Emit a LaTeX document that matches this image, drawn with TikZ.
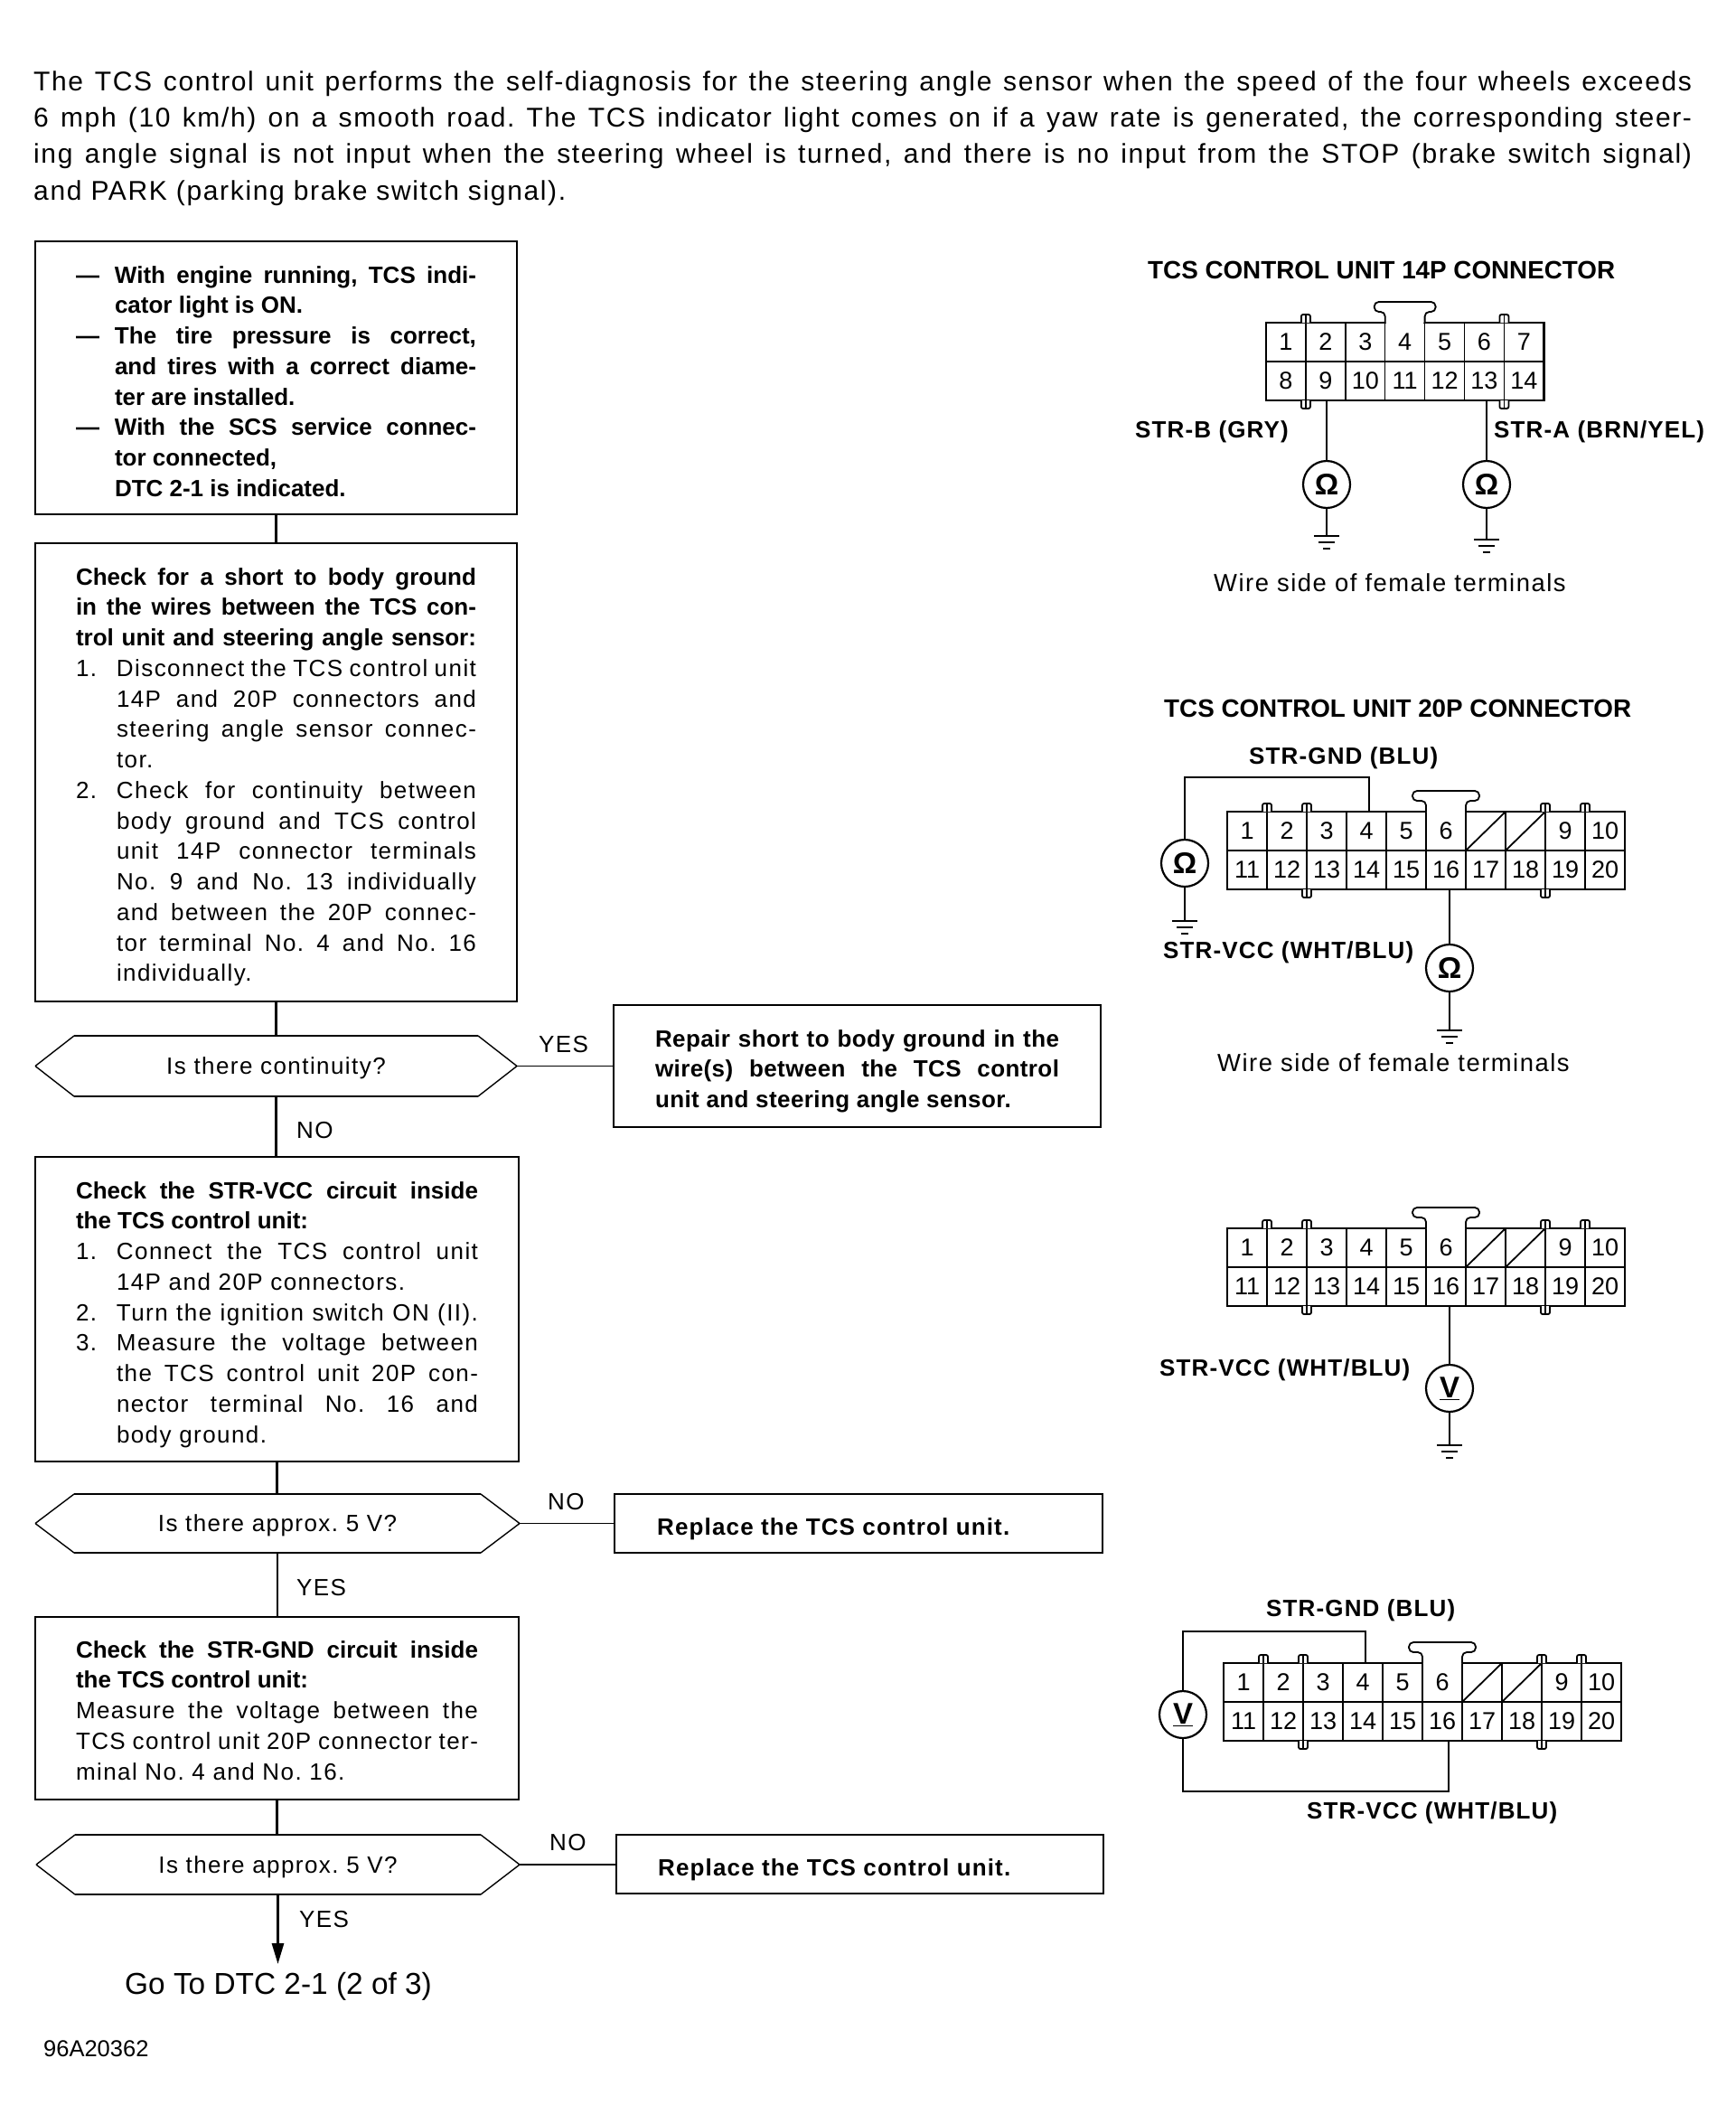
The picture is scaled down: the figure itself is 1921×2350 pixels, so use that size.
\documentclass[tikz,border=0pt]{standalone}
\usepackage{fontspec}
\setmainfont{Liberation Sans}[LetterSpace=5.5,BoldFeatures={LetterSpace=4.4}]
\newfontfamily\plainf{Liberation Sans}
\newfontfamily\repairf{Liberation Sans Bold}[LetterSpace=1.6]
\usetikzlibrary{calc,arrows.meta}
\newcommand\bodyfont{\fontsize{26}{33.75}\selectfont\frenchspacing}
\newcommand\boxbold{\plainf\bfseries}
\newdimen\LnW \newdimen\LnI
\newcommand\Ln[2]{\hbox to \LnW{\hbox to \LnI{#1\hfil}#2}}
\newcommand\Blk[5]{% name, x, y baseline, width, lines
  \node[anchor=base west,inner sep=0pt,outer sep=0pt] (#1) at (#2,#3) {\bodyfont\LnW=#4pt\LnI=43pt\baselineskip=33.75pt\lineskiplimit=-100pt\vtop{\hsize=#4pt #5}};}
\newcommand\Hex[6]{% name x1 x2 y1 y2 text
  \node[hexcore,minimum width={#3-#2},minimum height={#5-#4}] (#1) at ({(#2+#3)/2},{(#4+#5)/2}) {\raisebox{-9pt}[0pt][0pt]{#6}};
  \draw[hairl] (#1.west) -- ($(#1.north west)+(43,0)$) ($(#1.north east)+(-43,0)$) -- (#1.east) -- ($(#1.south east)+(-43,0)$) ($(#1.south west)+(43,0)$) -- (#1.west);
  \draw[heavy] ($(#1.north west)+(43,0)$) -- ($(#1.north east)+(-43,0)$) ($(#1.south west)+(43,0)$) -- ($(#1.south east)+(-43,0)$);}
\newcommand\ThinBox[1]{\draw[heavy,line width=2.4pt] (#1.north west) -- (#1.north east) (#1.south west) -- (#1.south east);}
\newcommand\Gnd[1]{\draw[wire] ($(#1)+(-14,0)$) -- ($(#1)+(14,0)$) ($(#1)+(-9,7)$) -- ($(#1)+(9,7)$) ($(#1)+(-4,14)$) -- ($(#1)+(4,14)$);}
\newcommand\Notch[2]{\draw[wire,fill=white,rounded corners=2pt] ($(#1)+(-5,0)$) -- ($(#1)+(-5,#2)$) -- ($(#1)+(5,#2)$) -- ($(#1)+(5,0)$);
  \draw[hairl] (#1) -- ($(#1)+(0,#2)$);}
\newcommand\Tab[3]{% anchors L,R on top, head overhang
  \draw[wire,fill=white,rounded corners=5pt] (#1) -- ($(#1)+(0,-12)$) -- ($(#1)+(-#3,-12)$) -- ($(#1)+(-#3,-23)$) -- ($(#2)+(#3,-23)$) -- ($(#2)+(#3,-12)$) -- ($(#2)+(0,-12)$) -- (#2);
  \fill[white] ($(#1)+(1.2,-2)$) rectangle ($(#2)+(-1.2,1.2)$);}
\newcommand\ConnA[3]{% 20P: prefix x y
  \foreach \i in {1,...,10}{\pgfmathsetmacro\cx{#2+(\i-.5)*44}
    \node[cellbox] (#1-\i) at (\cx,#3+21.5) {\ifnum\i=7 \else\ifnum\i=8 \else\i\fi\fi};}
  \foreach \i in {11,...,20}{\pgfmathsetmacro\cx{#2+(\i-10.5)*44}
    \node[cellbox] (#1-\i) at (\cx,#3+64.5) {\i};}
  \draw[heavy] (#1-1.north west) rectangle (#1-20.south east);
  \draw[wire] (#1-7.south west) -- (#1-7.north east) (#1-8.south west) -- (#1-8.north east);
  \Notch{#1-1.north east}{-9}\Notch{#1-2.north east}{-9}\Notch{#1-8.north east}{-9}\Notch{#1-9.north east}{-9}
  \Notch{#1-12.south east}{9}\Notch{#1-18.south east}{9}
  \Tab{#1-6.north west}{#1-6.north east}{15}}
\newcommand\ConnB[3]{% 14P
  \foreach \i in {1,...,7}{\pgfmathsetmacro\cx{#2+(\i-.5)*43.9}
    \node[cellbox,minimum width=43.9pt] (#1-\i) at (\cx,#3+21.5) {\i};}
  \foreach \i in {8,...,14}{\pgfmathsetmacro\cx{#2+(\i-7.5)*43.9}
    \node[cellbox,minimum width=43.9pt] (#1-\i) at (\cx,#3+64.5) {\i};}
  \draw[heavy] (#1-1.north west) rectangle (#1-14.south east);
  \Notch{#1-1.north east}{-9}\Notch{#1-6.north east}{-9}
  \Notch{#1-8.south east}{9}\Notch{#1-13.south east}{9}
  \Tab{#1-4.north west}{#1-4.north east}{12}}
\tikzset{
  wire/.style={line width=1.8pt,draw=black},
  hairl/.style={line width=1.4pt,draw=black},
  heavy/.style={line width=2.8pt,draw=black},
  stepbox/.style={draw=black,line width=2.4pt,inner sep=0pt,outer sep=0pt,anchor=north west},
  thinbox/.style={stepbox,line width=1.3pt},
  hexcore/.style={inner sep=0pt,outer sep=0pt,font=\bodyfont},
  cellbox/.style={draw=black,line width=1.4pt,minimum width=44pt,minimum height=43pt,inner sep=0pt,outer sep=0pt,font=\plainf\fontsize{27}{30}\selectfont},
  meter/.style={circle,draw=black,line width=2.2pt,minimum size=52pt,inner sep=0pt,outer sep=0pt,font=\plainf\fontsize{33}{34}\selectfont\bfseries,fill=white},
  lab/.style={anchor=base west,inner sep=0pt,font=\bodyfont},
  wlab/.style={anchor=base west,inner sep=0pt,font=\fontsize{27.4}{30}\selectfont},
  blab/.style={anchor=base west,inner sep=0pt,font=\bodyfont\bfseries},
  ttl/.style={anchor=base west,inner sep=0pt,font=\plainf\fontsize{27.8}{30}\selectfont\bfseries},
}
\begin{document}
\begin{tikzpicture}[x=1pt,y=-1pt]
\useasboundingbox[fill=white] (0,0) rectangle (1921,2350);
% intro
\node[anchor=base west,inner sep=0pt] (intro) at (37,100) {\fontsize{30}{40.4}\selectfont\frenchspacing\LnW=1835pt\LnI=0pt\baselineskip=40.4pt\vtop{\hsize=1835pt
\Ln{}{The TCS control unit performs the self-diagnosis for the steering angle sensor when the speed of the four wheels exceeds}
\Ln{}{6 mph (10 km/h) on a smooth road. The TCS indicator light comes on if a yaw rate is generated, the corresponding steer-}
\Ln{}{ing angle signal is not input when the steering wheel is turned, and there is no input from the STOP (brake switch signal)}
\Ln{}{and PARK (parking brake switch signal).\hfil}}};
% boxes
\node[stepbox,minimum width=533pt,minimum height=302pt] (b1) at (39,267) {};
\node[stepbox,minimum width=533pt,minimum height=507pt] (b2) at (39,601) {};
\node[thinbox,minimum width=535pt,minimum height=337pt] (b3) at (39,1280) {};
\node[stepbox,minimum width=535pt,minimum height=202pt] (b4) at (39,1789) {};
\node[stepbox,minimum width=539pt,minimum height=135pt] (r1) at (679,1112) {};
\node[thinbox,minimum width=540pt,minimum height=65pt] (r2) at (680,1653) {};
\node[thinbox,minimum width=539pt,minimum height=65pt] (r3) at (682,2030) {};
\ThinBox{b3}\ThinBox{r2}\ThinBox{r3}
\Hex{h1}{39}{572}{1146}{1213}{Is there continuity?}
\Hex{h2}{39}{575}{1653}{1718}{Is there approx. 5 V?}
\Hex{h3}{40}{575}{2030}{2096}{Is there approx. 5 V?}
% box text
\Blk{t1}{84}{313}{443}{\boxbold
\Ln{—}{With engine running, TCS indi-}
\Ln{}{cator light is ON.\hfil}
\Ln{—}{The tire pressure is correct,}
\Ln{}{and tires with a correct diame-}
\Ln{}{ter are installed.\hfil}
\Ln{—}{With the SCS service connec-}
\Ln{}{tor connected,\hfil}
\Ln{}{DTC 2-1 is indicated.\hfil}}
\Blk{t2}{84}{647}{443}{\LnI=0pt
{\boxbold\Ln{}{Check for a short to body ground}
\Ln{}{in the wires between the TCS con-}
\Ln{}{trol unit and steering angle sensor:}}
\LnI=45pt
\Ln{1.}{Disconnect the TCS control unit}
\Ln{}{14P and 20P connectors and}
\Ln{}{steering angle sensor connec-}
\Ln{}{tor.\hfil}
\Ln{2.}{Check for continuity between}
\Ln{}{body ground and TCS control}
\Ln{}{unit 14P connector terminals}
\Ln{}{No. 9 and No. 13 individually}
\Ln{}{and between the 20P connec-}
\Ln{}{tor terminal No. 4 and No. 16}
\Ln{}{individually.\hfil}}
\Blk{t3}{84}{1326}{445}{\LnI=0pt
{\boxbold\Ln{}{Check the STR-VCC circuit inside}
\Ln{}{the TCS control unit:\hfil}}
\LnI=45pt
\Ln{1.}{Connect the TCS control unit}
\Ln{}{14P and 20P connectors.\hfil}
\Ln{2.}{Turn the ignition switch ON (II).}
\Ln{3.}{Measure the voltage between}
\Ln{}{the TCS control unit 20P con-}
\Ln{}{nector terminal No. 16 and}
\Ln{}{body ground.\hfil}}
\Blk{t4}{84}{1834}{445}{\LnI=0pt
{\boxbold\Ln{}{Check the STR-GND circuit inside}
\Ln{}{the TCS control unit:\hfil}}
\Ln{}{Measure the voltage between the}
\Ln{}{TCS control unit 20P connector ter-}
\Ln{}{minal No. 4 and No. 16.\hfil}}
\Blk{t5}{725}{1158}{447}{\LnI=0pt\repairf
\Ln{}{Repair short to body ground in the}
\Ln{}{wire(s) between the TCS control}
\Ln{}{unit and steering angle sensor.\hfil}}
\node[blab] (t6) at (727,1698) {Replace the TCS control unit.};
\node[blab] (t7) at (728,2075) {Replace the TCS control unit.};
% flow connectors
\draw[heavy] (b1.south) -- (b1.south |- b2.north);
\draw[heavy] (b2.south) -- (b2.south |- h1.north);
\draw[heavy] (h1.south) -- (h1.south |- b3.north);
\draw[heavy] (b3.south) -- (b3.south |- h2.north);
\draw[heavy] (h2.south) -- (h2.south |- b4.north);
\draw[heavy] (b4.south) -- (b4.south |- h3.north);
\draw[hairl] (h1.east) -- (r1.west |- h1.east);
\draw[hairl] (h2.east) -- (r2.west |- h2.east);
\draw[hairl] (h3.east) -- (r3.west |- h3.east);
\coordinate (goto) at (h3.south |- 0,2173);
\draw[heavy,-{Stealth[length=23pt,width=13pt,inset=0pt]}] (h3.south) -- (goto);
\node[anchor=base west,inner sep=0pt,font=\plainf\fontsize{33.4}{36}\selectfont] (go) at (138,2206) {Go To DTC 2-1 (2 of 3)};
\node[anchor=base west,inner sep=0pt,font=\plainf\fontsize{25.5}{28}\selectfont] (code) at (48,2275) {96A20362};
% flow labels
\node[lab] (l1) at (596,1164) {YES};
\node[lab] (l2) at (328,1259) {NO};
\node[lab] (l3) at (606,1670) {NO};
\node[lab] (l4) at (328,1765) {YES};
\node[lab] (l5) at (608,2047) {NO};
\node[lab] (l6) at (331,2132) {YES};
% 14P
\node[ttl] (c1t) at (1270,308) {TCS CONTROL UNIT 14P CONNECTOR};
\ConnB{ca}{1401}{357}
\node[meter] (ma) at (1468,536) {Ω};
\node[meter] (mb) at (1645,536) {Ω};
\coordinate (ga) at (1468,593);
\coordinate (gb) at (1645,597);
\draw[wire] (ma.north |- ca-9.south) -- (ma.north);
\draw[wire] (mb.north |- ca-13.south) -- (mb.north);
\draw[wire] (ma.south) -- (ga); \draw[wire] (mb.south) -- (gb);
\Gnd{ga}\Gnd{gb}
\node[blab] (lb) at (1256,484) {STR-B (GRY)};
\node[blab] (la) at (1653,484) {STR-A (BRN/YEL)};
\node[wlab] (wa) at (1343,654) {Wire side of female terminals};
% 20P
\node[ttl] (c2t) at (1288,793) {TCS CONTROL UNIT 20P CONNECTOR};
\node[blab] (gn1) at (1382,845) {STR-GND (BLU)};
\ConnA{cb}{1358}{898}
\coordinate (cbt) at (1311,860);
\node[meter] (mc) at (1311,955) {Ω};
\node[meter] (md) at (1604,1071) {Ω};
\coordinate (gc) at (1311,1019);
\coordinate (gd) at (1604,1140);
\draw[wire] (cb-4.north) ++(3,0) -- ++(0,-38) -- (cbt) -- (mc.north);
\draw[wire] (mc.south) -- (gc);
\draw[wire] (md.north |- cb-16.south) -- (md.north);
\draw[wire] (md.south) -- (gd);
\Gnd{gc}\Gnd{gd}
\node[blab] (vc1) at (1287,1060) {STR-VCC (WHT/BLU)};
\node[wlab] (wb) at (1347,1185) {Wire side of female terminals};
% third
\ConnA{cc}{1358}{1359}
\node[meter] (me) at (1604,1536) {\underline{V}};
\coordinate (ge) at (1604,1599);
\draw[wire,line width=2.4pt] (me.north |- cc-16.south) -- (me.north);
\draw[wire,line width=2.4pt] (me.south) -- (ge);
\Gnd{ge}
\node[blab] (vc2) at (1283,1522) {STR-VCC (WHT/BLU)};
% fourth
\node[blab] (gn2) at (1401,1788) {STR-GND (BLU)};
\ConnA{cd}{1354}{1840}
\node[meter] (mf) at (1309,1897) {\underline{V}};
\coordinate (wt) at (1309,1805);
\coordinate (wb2) at (1309,1982);
\coordinate (wc) at (1603,1982);
\draw[wire,line width=2.8pt] (cd-4.north) ++(3,0) -- ++(0,-35) -- (wt) -- (mf.north);
\draw[wire,line width=2.8pt] (mf.south) -- (wb2) -- (wc) -- (wc |- cd-16.south);
\node[blab] (vc3) at (1446,2012) {STR-VCC (WHT/BLU)};
\end{tikzpicture}
\end{document}
